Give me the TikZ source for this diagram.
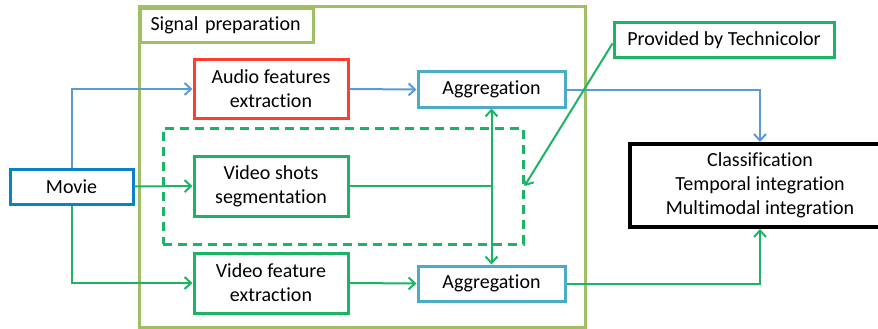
\documentclass[tikz,border=0pt]{standalone}
\usepackage{fontspec}
\setmainfont{Carlito}[Ligatures=NoCommon]
\usetikzlibrary{arrows.meta}

\definecolor{movieblue}{RGB}{10,128,200}
\definecolor{linkblue}{RGB}{91,155,213}
\definecolor{aggcyan}{RGB}{75,172,198}
\definecolor{audiored}{RGB}{255,62,44}
\definecolor{techgreen}{RGB}{28,180,100}
\definecolor{prepolive}{RGB}{160,190,100}

\tikzset{
  blockbox/.style={draw, line width=3pt, fill=white, align=center, inner sep=0pt,
    font=\fontsize{20}{24}\selectfont},
  barb/.tip={Straight Barb[length=6.5pt,width=12pt,line width=2pt]},
  link/.style={line width=2pt, -barb},
  bilink/.style={line width=2pt, barb-barb},
}

\begin{document}
\begin{tikzpicture}[x=1pt, y=-1pt]
  \useasboundingbox (0,0) rectangle (878,329);
  \clip (0,0) rectangle (878,329);

  % signal preparation frame and its title tab
  \node[blockbox, draw=prepolive, fill=none, minimum width=446pt, minimum height=320pt] (prep) at (362,167) {};
  \node[blockbox, draw=prepolive, minimum width=173pt, minimum height=34pt, anchor=north west,
        align=left, text width=153pt] (preplabel) at (139,7) {Signal preparation};

  % dashed group around shot segmentation
  \node[draw=techgreen, line width=3pt, dash pattern=on 9pt off 6pt,
        minimum width=360pt, minimum height=116pt, inner sep=0pt] (dash) at (343,186) {};

  % processing blocks
  \node[blockbox, draw=movieblue, minimum width=123pt, minimum height=35pt] (movie) at (71.5,186.5) {Movie};
  \node[blockbox, draw=audiored, minimum width=154pt, minimum height=58pt] (audio) at (271,89) {Audio features\\extraction};
  \node[blockbox, draw=techgreen, minimum width=154pt, minimum height=60pt] (shots) at (271,186) {Video shots\\segmentation};
  \node[blockbox, draw=techgreen, minimum width=154pt, minimum height=60pt] (feat) at (271,283) {Video feature\\extraction};
  \node[blockbox, draw=aggcyan, minimum width=147pt, minimum height=35pt] (agg1) at (491.5,89.5) {Aggregation};
  \node[blockbox, draw=aggcyan, minimum width=147pt, minimum height=35pt] (agg2) at (491.5,283.5) {Aggregation};
  \node[blockbox, draw=techgreen, minimum width=220pt, minimum height=35pt] (tech) at (724,40.5) {Provided by Technicolor};
  \node[blockbox, draw=black, line width=4pt, minimum width=260pt, minimum height=83pt] (cls) at (760,185.5)
        {Classification\\Temporal integration\\Multimodal integration};

  % audio path
  \draw[link, linkblue] (movie.north) |- (audio.west);
  \draw[link, linkblue] (audio.east) -- (agg1.west);
  \draw[link, linkblue] (agg1.east) -| (cls.north);

  % video paths
  \draw[link, techgreen] (movie.east) -- (shots.west);
  \draw[link, techgreen] (movie.south) |- (feat.west);
  \draw[link, techgreen] (feat.east) -- (agg2.west);
  \draw[techgreen, line width=2pt] (shots.east) -- (shots.east -| agg1.south);
  \draw[bilink, techgreen] (agg1.south) -- (agg2.north);
  \draw[link, techgreen] (agg2.east) -| (cls.south);

  % note pointing at the dashed group
  \draw[link, techgreen] ([yshift=-3pt]tech.west) -- (dash.east);
\end{tikzpicture}
\end{document}
